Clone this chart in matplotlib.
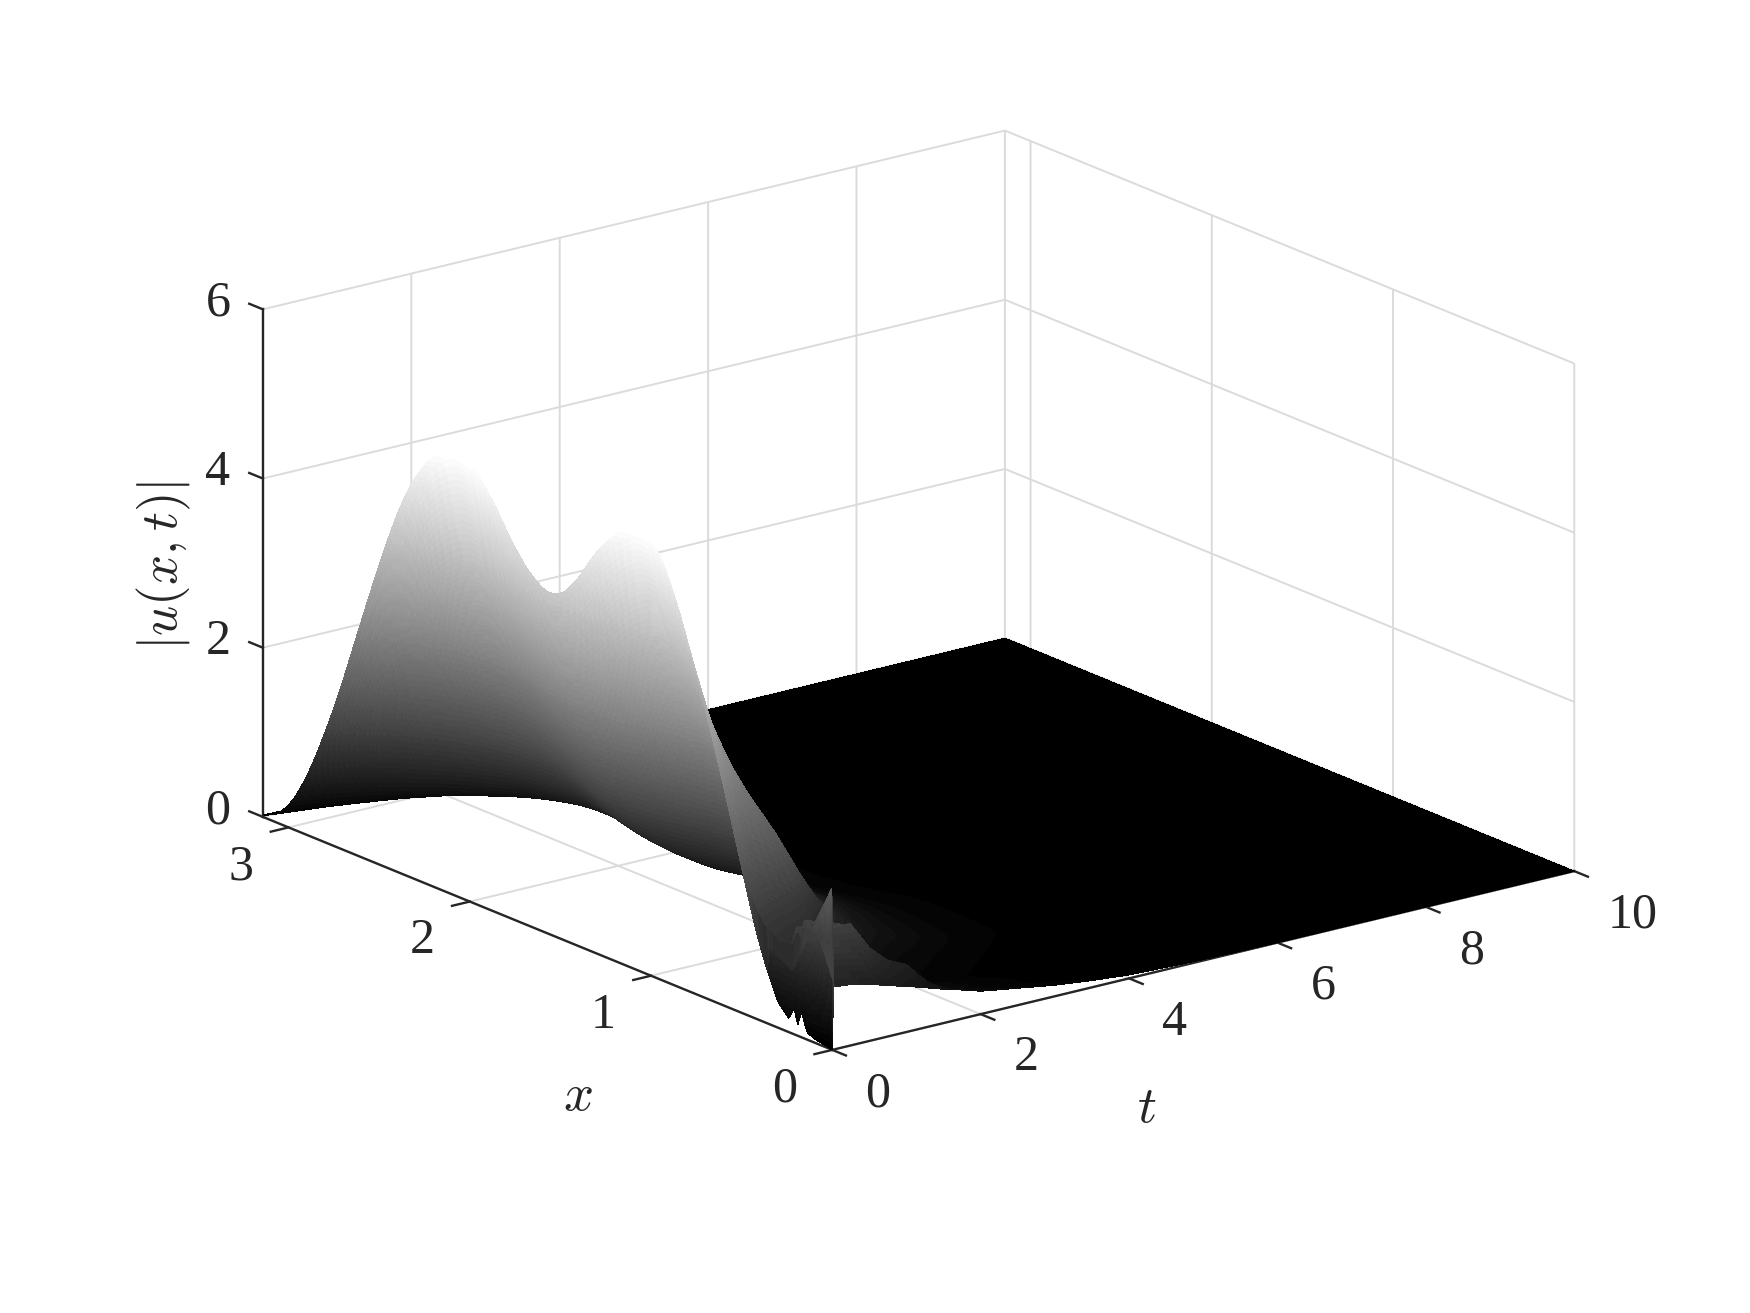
import numpy as np
import matplotlib
matplotlib.use("Agg")
import matplotlib.pyplot as plt
from matplotlib.colors import ListedColormap, Normalize
from matplotlib.transforms import Affine2D
from mpl_toolkits.mplot3d import proj3d

plt.rcParams['font.family'] = ['Liberation Serif', 'DejaVu Serif']
plt.rcParams['mathtext.fontset'] = 'cm'

# values
x_nodes = [0, .09, .14, .17, .19, .21, .24, .30, .40, .523, .647, .77, .893, .985, 1.06, 1.139, 1.293, 1.416, 1.527,
           1.632, 1.755, 1.878, 2.0, 2.07, 2.124, 2.247, 2.37, 2.494, 2.617, 2.74, 2.894, 3.017, 3.1416]
u_at_t0 = [0, .04, .08, .3, .12, .3, .16, .3, .83, 1.92, 3.0, 3.94, 4.78, 5.15, 5.25, 5.18, 4.8, 4.27, 4.0,
           4.08, 4.4, 4.88, 5.2, 5.3, 5.25, 4.98, 4.45, 3.6, 2.65, 1.68, .69, .17, 0]
t_nodes = [0, .25, .5, .75, 1, 1.25, 1.5, 1.75, 2, 2.5, 3, 3.5, 4, 5, 6, 8, 10]
decay = [1, .74, .55, .41, .305, .235, .18, .14, .105, .06, .03, .015, .008, .002, .0005, 0, 0]
u_at_x0 = [.74, .72, .67, .60, .54, .47, .40, .34, .27, .2, .13, .08, .04, .01, 0, 0, 0]
u_at_x01 = [1.3, 1.3, 1.28, .95, .75, .65, .4, .25, .2, .12, .07, .04, .02, 0, 0, 0, 0]
extra_at_x06 = [0, .3, .6, .75, .6, .4, .27, .2, .15, .12, .09, .06, .03, .01, 0, 0, 0]
spike_x = [.0105, .228, .36]
spike_u = [1.9, .74, .9]
x_ticks = [0, 1, 2, 3]
t_ticks = [0, 2, 4, 6, 8, 10]
u_ticks = [0, 2, 4, 6]

# render mesh
n_front = 24
front_t = .02
x_fine = np.linspace(0, np.pi, 300)
t_fine = np.concatenate([np.linspace(0, front_t, n_front + 1),
                         np.linspace(front_t, 4, 260, endpoint=False)[1:],
                         np.linspace(4, 10, 13)])
raw = np.interp(x_fine, x_nodes, u_at_t0)
kernel = np.ones(13) / 13
smooth = np.convolve(np.pad(raw, 6, mode='edge'), kernel, mode='valid')
profile = np.where(x_fine > .33, smooth, raw)
g = np.interp(t_fine, t_nodes, decay)
edge0 = np.interp(t_fine, t_nodes, u_at_x0)
edge1 = np.interp(t_fine, t_nodes, u_at_x01)
edge2 = np.interp(t_fine, t_nodes, extra_at_x06)
w0 = np.interp(x_fine, [0, .1], [1, 0])
w1 = np.interp(x_fine, [0, .1, .3, .5], [0, 1, .55, 0])
w2 = np.interp(x_fine, [.3, .6, 1.3], [0, 1, 0])
T, X = np.meshgrid(t_fine, x_fine)
U = np.outer(profile, g) + np.outer(w0, edge0) + np.outer(w1, edge1) + np.outer(w2, edge2)
U[:, 0] = profile
near = x_fine <= spike_x[-1]
crest = np.interp(x_fine[near], spike_x, spike_u)
crest[0] = u_at_x0[0]
for j in range(1, n_front + 1):
    a = j / n_front
    U[near, j] = (1 - a) * profile[near] + a * crest

levels = plt.get_cmap('gray')(np.linspace(0, 1, 64))
cmap = ListedColormap(levels)

fig = plt.figure(figsize=(17.5, 13.13), dpi=100, facecolor='white')
ax = fig.add_axes([.1, .1, .8, .8], projection='3d', proj_type='ortho')
ax.view_init(elev=18.3, azim=-127.5)
ax.set_box_aspect((838, 838, 479))
ax.set_xlim(0, 10, view_margin=0)
ax.set_ylim(0, np.pi, view_margin=0)
ax.set_zlim(0, 6, view_margin=0)

ax.plot_surface(T, X, U, cmap=cmap, norm=Normalize(0, 5.2), rstride=1, cstride=1,
                linewidth=0, antialiased=False, shade=False)

ax.set_xticks(t_ticks)
ax.set_yticks(x_ticks)
ax.set_zticks(u_ticks)
dark = '#262626'
grid = '#dbdbdb'
for axis, out in ((ax.xaxis, -.3), (ax.yaxis, -.3), (ax.zaxis, .3)):
    axis.set_pane_color((1, 1, 1, 0))
    axis.pane.set_edgecolor(grid)
    axis.pane.set_linewidth(1.4)
    axis.line.set_color(dark)
    axis.line.set_linewidth(1.7)
    axis._axinfo['grid'].update(color=grid, linewidth=1.4)
    axis._axinfo['tick'].update(inward_factor=0, outward_factor=out)
    axis._axinfo['tick']['linewidth'] = {True: 1.7, False: 1.7}
    axis._axinfo['tick']['color'] = dark
ax.zaxis._get_tickdir = lambda pos: 1
ax.tick_params(labelsize=36, labelcolor=dark, color=dark, pad=12)
ax.set_xlabel('$t$', fontsize=38, color=dark, labelpad=30)
ax.set_ylabel('$x$', fontsize=38, color=dark, labelpad=30)
ax.zaxis.set_rotate_label(False)
ax.set_zlabel('$|u(x,t)|$', fontsize=38, color=dark, labelpad=30, rotation=90)

S = 1750 / 1568


def shift(artist, dx, dy):
    # Axis3D resets text transforms while drawing, so apply the offset at draw time
    off = Affine2D().translate(dx * S, -dy * S)
    original = artist.draw

    def draw(renderer):
        artist._transform = ax.transData + off
        return original(renderer)

    artist.draw = draw


for tick in ax.xaxis.get_major_ticks():
    tick.label1.set_ha('left')
    shift(tick.label1, 10, -7)
for tick in ax.yaxis.get_major_ticks():
    shift(tick.label1, -17, -9)
for tick in ax.zaxis.get_major_ticks():
    shift(tick.label1, 5, -24)
shift(ax.xaxis.label, -101, 68)
shift(ax.yaxis.label, 92, 86)
shift(ax.zaxis.label, 27, 7)

# place the box on the reference's corners (pixels, full size, y from top)
target = {'o': (745.7 * S, 940.7 * S), 'a': (235.7 * S, 731.7 * S), 'b': (1410.7 * S, 780.7 * S)}
W, H = fig.get_size_inches() * fig.dpi


def corners():
    fig.canvas.draw()
    M = ax.get_proj()
    out = {}
    for k, p in {'o': (0, 0, 0), 'a': (0, np.pi, 0), 'b': (10, 0, 0)}.items():
        u, v, _ = proj3d.proj_transform(*p, M)
        px, py = ax.transData.transform((u, v))
        out[k] = (px, H - py)
    return out


for _ in range(2):
    c = corners()
    scale = (target['b'][0] - target['a'][0]) / (c['b'][0] - c['a'][0])
    pos = ax.get_position(original=True)
    cx, cy = pos.x0 + pos.width / 2, pos.y0 + pos.height / 2
    nw, nh = pos.width * scale, pos.height * scale
    ax.set_position([cx - nw / 2, cy - nh / 2, nw, nh])
    c = corners()
    dx = (target['o'][0] - c['o'][0]) / W
    dy = -(target['o'][1] - c['o'][1]) / H
    pos = ax.get_position(original=True)
    ax.set_position([pos.x0 + dx, pos.y0 + dy, pos.width, pos.height])

fig.savefig('out.png', dpi=100)
